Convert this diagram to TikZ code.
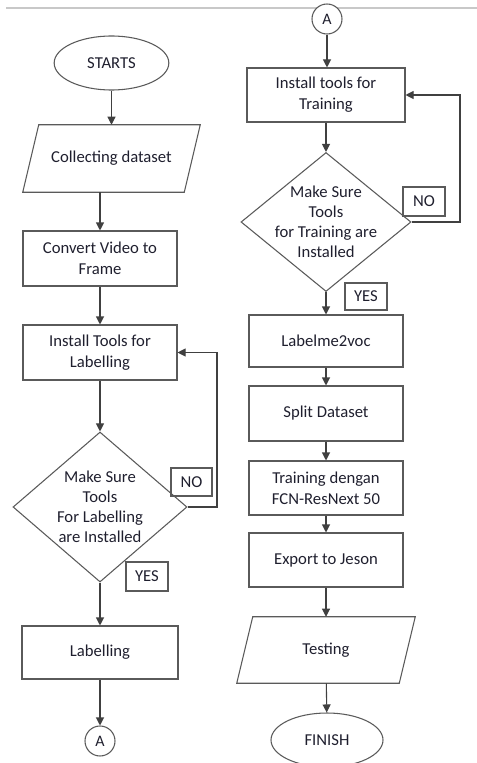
\documentclass[tikz,border=0pt]{standalone}
\usepackage{fontspec}
\setmainfont{Carlito}
\usetikzlibrary{shapes.geometric,arrows.meta}
\definecolor{lineGray}{HTML}{404040}
\definecolor{boxGray}{HTML}{5A5A5A}
\definecolor{rulerGray}{HTML}{C8C8C8}
\definecolor{textDark}{HTML}{1F1F2E}
% Slanted input/output outline drawn round a named node.
\newcommand{\ioslant}[1]{%
  \draw[draw=boxGray,line width=0.8pt]
    ([xshift=6pt]#1.north west)--([xshift=6pt]#1.north east)
    --([xshift=-6pt]#1.south east)--([xshift=-6pt]#1.south west)--cycle;
}

\begin{document}
\begin{tikzpicture}[x=0.75pt,y=-0.75pt,
  font=\fontsize{12.5}{15.75}\selectfont,
  every node/.style={text=textDark},
  procbox/.style={draw=boxGray,line width=0.8pt,rectangle,align=center,
    inner sep=0pt},
  iobox/.style={rectangle,inner sep=0pt,align=center},
  termbox/.style={draw=boxGray,line width=0.8pt,ellipse,inner sep=0pt},
  checkbox/.style={draw=boxGray,line width=0.8pt,diamond,inner sep=0pt,
    align=center,font=\fontsize{12.5}{15}\selectfont},
  tagbox/.style={draw=boxGray,line width=0.8pt,rectangle,inner sep=0pt},
  linkbox/.style={draw=boxGray,line width=0.8pt,circle,fill=white,
    inner sep=0pt,minimum size=22.5pt,font=\fontsize{12}{13}\selectfont},
  flow/.style={draw=lineGray,line width=0.8pt,
    -{Triangle[length=6pt,width=6pt]}}]
\useasboundingbox (0,0) rectangle (477,763);

% Page rule along the top edge.
\draw[rulerGray,line width=0.8pt] (6,8)--(477,8);

% Left column: data preparation.
\node[termbox,minimum width=86pt,minimum height=40.5pt] (start) at (111.5,63) {STARTS};
\node[iobox,minimum width=120.75pt,minimum height=50.25pt] (collect) at (111.5,158.5) {Collecting dataset};
\ioslant{collect}
\node[procbox,minimum width=115.5pt,minimum height=41.25pt] (convert) at (100,258.5) {Convert Video to\\Frame};
\node[procbox,minimum width=115.5pt,minimum height=41.25pt] (installL) at (100,352.5) {Install Tools for\\Labelling};
\node[checkbox,inner sep=-2.5pt,minimum width=130.5pt,minimum height=112.5pt,aspect=1.16] (checkL) at (100,507)
  {Make Sure\\Tools\\For Labelling\\are Installed};
\node[tagbox,minimum width=30.75pt,minimum height=21pt] (noL) at (191.5,482) {NO};
\node[tagbox,minimum width=31.5pt,minimum height=21.75pt] (yesL) at (147,576.5) {YES};
\node[procbox,minimum width=117pt,minimum height=39.75pt] (label) at (100,652.5) {Labelling};
\node[linkbox] (linkL) at (100,741) {A};

\coordinate (loopL) at (217,507);
\draw[flow] (start) -- (collect.north -| start);
\draw[flow] (collect.south -| convert) -- (convert);
\draw[flow] (convert) -- (installL);
\draw[flow] (installL) -- (checkL);
\draw[flow] (checkL) -- (label);
\draw[flow] (label) -- (linkL);
\draw[flow] (checkL.east) -- (loopL) |- (installL.east);

% Right column: training and testing.
\node[linkbox] (linkR) at (327,19) {A};
\node[procbox,minimum width=118.5pt,minimum height=40.5pt] (installT) at (326,95) {Install tools for\\Training};
\node[checkbox,inner sep=-4.5pt,minimum width=127.5pt,minimum height=104.25pt,aspect=1.22] (checkT) at (326,222)
  {Make Sure\\Tools\\for Training are\\Installed};
\node[tagbox,minimum width=31.5pt,minimum height=21.75pt] (noT) at (424,201.5) {NO};
\node[tagbox,minimum width=31.5pt,minimum height=20.25pt] (yesT) at (366,296.5) {YES};
\node[procbox,minimum width=115.5pt,minimum height=39pt] (convVoc) at (326,341) {Labelme2voc};
\node[procbox,minimum width=115.5pt,minimum height=41.25pt] (split) at (326,413.5) {Split Dataset};
\node[procbox,minimum width=115.5pt,minimum height=40.5pt] (train) at (326,488) {Training dengan\\FCN-ResNext 50};
\node[procbox,minimum width=115.5pt,minimum height=40.5pt] (export) at (326,560) {Export to Jeson};
\node[iobox,minimum width=121.5pt,minimum height=49.5pt] (test) at (326,650) {Testing};
\ioslant{test}
\node[termbox,minimum width=84pt,minimum height=40.5pt] (finish) at (327,740) {FINISH};

\coordinate (loopR) at (460,222);
\draw[flow] (linkR) -- (linkR |- installT.north);
\draw[flow] (installT) -- (checkT);
\draw[flow] (checkT) -- (convVoc);
\draw[flow] (convVoc) -- (split);
\draw[flow] (split) -- (train);
\draw[flow] (train) -- (export);
\draw[flow] (export) -- (test);
\draw[flow] (test) -- (finish);
\draw[flow] (checkT.east) -- (loopR) |- (installT.east);

\end{tikzpicture}
\end{document}
